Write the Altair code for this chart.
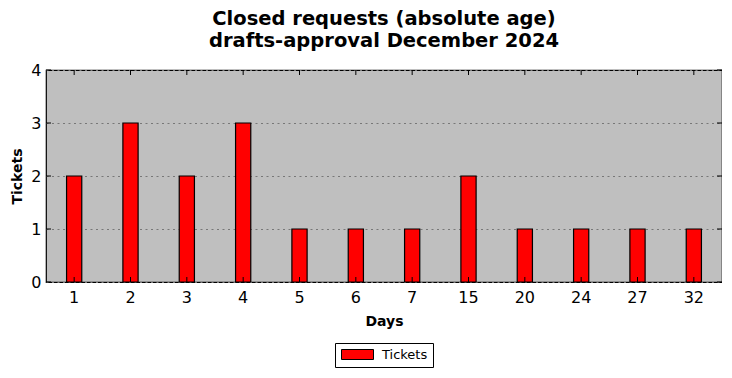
import altair as alt
import pandas as pd

days = ["1", "2", "3", "4", "5", "6", "7", "15", "20", "24", "27", "32"]
tickets = [2, 3, 2, 3, 1, 1, 1, 2, 1, 1, 1, 1]
y_ticks = [0, 1, 2, 3, 4]
series_name = "Tickets"

W, H = 676, 212

df = pd.DataFrame({"Days": days, "Tickets": tickets, "series": [series_name] * len(days)})
ydf = pd.DataFrame({"v": y_ticks})

xscale = alt.Scale(domain=days, paddingInner=0, paddingOuter=0)
yscale = alt.Scale(domain=[0, 4], nice=False)

bars = alt.Chart(df).mark_bar(
    width=alt.RelativeBandSize(0.27), stroke="black", strokeWidth=1.2
).encode(
    x=alt.X("Days:N", sort=days, scale=xscale,
            axis=alt.Axis(title="Days", labelAngle=0, tickSize=0, labelPadding=7,
                          labelFontSize=16, labelFont="DejaVu Sans", labelColor="black",
                          titleFontSize=14, titleFont="DejaVu Sans", titleFontWeight="bold",
                          titlePadding=9, domain=False, grid=False)),
    y=alt.Y("Tickets:Q", scale=yscale,
            axis=alt.Axis(title="Tickets", values=y_ticks, format="d", tickSize=0, labelPadding=5,
                          labelFontSize=16, labelFont="DejaVu Sans", labelColor="black",
                          titleFontSize=14, titleFont="DejaVu Sans", titleFontWeight="bold",
                          titlePadding=6, domain=False, grid=True, gridColor="#777777",
                          gridDash=[2, 3.5], gridWidth=1)),
    color=alt.Color("series:N", scale=alt.Scale(domain=[series_name], range=["#ff0000"]),
                    legend=alt.Legend(title=None, orient="none", legendX=289, legendY=273,
                                      direction="horizontal",
                                      strokeColor="black", fillColor="white", padding=5,
                                      cornerRadius=0,
                                      symbolType="M-1,-1H5.4V1H-1Z", symbolSize=100,
                                      symbolStrokeColor="black", symbolStrokeWidth=1,
                                      symbolFillColor="#ff0000",
                                      labelFontSize=13, labelFont="DejaVu Sans",
                                      labelColor="black", labelOffset=29)),
)

top_ticks = alt.Chart(df).mark_rule(color="black", strokeWidth=1).encode(
    x=alt.X("Days:N", sort=days, scale=xscale),
    y=alt.value(0), y2=alt.value(5),
)
bottom_ticks = alt.Chart(df).mark_rule(color="black", strokeWidth=1).encode(
    x=alt.X("Days:N", sort=days, scale=xscale),
    y=alt.value(H), y2=alt.value(H - 5),
)
left_ticks = alt.Chart(ydf).mark_rule(color="black", strokeWidth=1).encode(
    y=alt.Y("v:Q", scale=yscale),
    x=alt.value(0), x2=alt.value(5),
)
right_ticks = alt.Chart(ydf).mark_rule(color="black", strokeWidth=1).encode(
    y=alt.Y("v:Q", scale=yscale),
    x=alt.value(W), x2=alt.value(W - 5),
)

chart = alt.layer(bars, top_ticks, bottom_ticks, left_ticks, right_ticks).properties(
    width=W, height=H,
    title=alt.TitleParams(["Closed requests (absolute age)", "drafts-approval December 2024"],
                          fontSize=19.5, font="DejaVu Sans", fontWeight="bold",
                          anchor="middle", offset=11, lineHeight=22, color="black"),
    autosize=alt.AutoSizeParams(type="none"),
    padding={"left": 38, "top": 62, "right": 0, "bottom": 88},
).configure_view(
    fill="#bfbfbf", stroke="black", strokeWidth=1.2
)

chart.save("out.html", embed_options={"renderer": "svg", "actions": False})
